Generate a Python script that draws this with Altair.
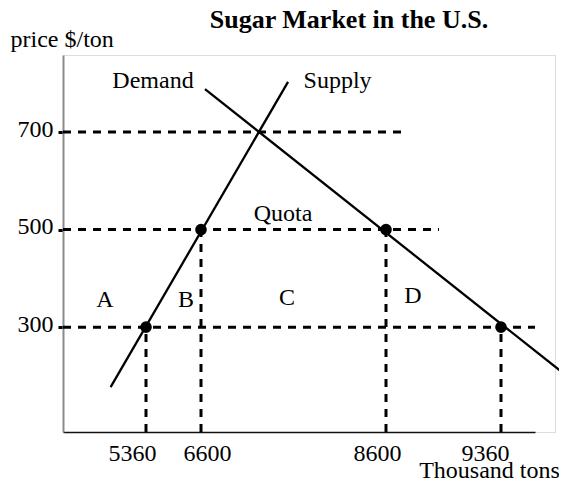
import altair as alt
import pandas as pd

FONT = "Liberation Serif"

# ---- data (quantity in thousand tons, price in $/ton) ----
quantity_ticks = [5360, 6600, 8600, 9360]
price_ticks = [300, 500, 700]

point_q = [5360, 6600, 8600, 9360]
point_p = [300, 500, 500, 300]

supply_q = [4780, 7541]
supply_p = [177, 803]
demand_q = [6643, 9980]
demand_p = [788, 206]

hline_p = [700, 500, 300]
hline_q_end = [8726, 8950, 9700]
vline_q = [5360, 6600, 8600, 9360]
vline_p_top = [300, 500, 500, 300]

label_text = ["Demand", "Supply", "Quota", "A", "B", "C", "D"]
label_q = [5518, 8076, 7486, 4688, 6262, 7530, 8778]
label_p = [790, 790, 517, 341, 341, 345, 349]

Q_MIN, Q_MAX = 4000, 9700
P_MIN, P_MAX = 85, 858

# ---- tables ----
dash_df = pd.DataFrame(
    [{"q": Q_MIN, "q2": e, "p": p, "p2": p} for p, e in zip(hline_p, hline_q_end)]
    + [{"q": q, "q2": q, "p": P_MIN, "p2": t} for q, t in zip(vline_q, vline_p_top)]
)
curve_df = pd.DataFrame([
    {"q": supply_q[0], "q2": supply_q[1], "p": supply_p[0], "p2": supply_p[1]},
    {"q": demand_q[0], "q2": demand_q[1], "p": demand_p[0], "p2": demand_p[1]},
])
pts_df = pd.DataFrame({"q": point_q, "p": point_p})
lab_df = pd.DataFrame({"q": label_q, "p": label_p, "t": label_text})

xscale = alt.Scale(domain=[Q_MIN, 5360, 6600, 8600, 9360, Q_MAX],
                   range=[0, 83, 138, 323, 438, 472], zero=False, nice=False)
yscale = alt.Scale(domain=[P_MIN, P_MAX], zero=False, nice=False)

x_label_offset = {
    "condition": [
        {"test": "datum.value == 5360", "value": -14},
        {"test": "datum.value == 6600", "value": 6},
        {"test": "datum.value == 8600", "value": -9},
        {"test": "datum.value == 9360", "value": -16},
    ],
    "value": 0,
}

xaxis = alt.Axis(values=quantity_ticks, format="d", grid=False, ticks=False, tickSize=0,
                 labelFont=FONT, labelFontSize=24, labelColor="black", labelPadding=9,
                 labelOffset=x_label_offset, labelFlush=False, labelOverlap=False,
                 domainColor="#111111", domainWidth=1.5,
                 title="Thousand tons", titleFont=FONT, titleFontSize=24,
                 titleFontWeight="normal", titleColor="black",
                 titleX=426, titleY=45, titleAlign="center", titleBaseline="alphabetic")
yaxis = alt.Axis(values=price_ticks, format="d", grid=False,
                 tickColor="black", tickWidth=3, tickSize=5,
                 labelFont=FONT, labelFontSize=24, labelColor="black", labelPadding=5,
                 labelOffset=-3,
                 domainColor="#8a8a8a", domainWidth=2,
                 title="price $/ton", titleFont=FONT, titleFontSize=24,
                 titleFontWeight="normal", titleColor="black", titleAngle=0,
                 titleX=-53, titleY=-9, titleAlign="left", titleBaseline="alphabetic")

X = alt.X("q:Q", scale=xscale, axis=xaxis)
Y = alt.Y("p:Q", scale=yscale, axis=yaxis)

dashes = alt.Chart(dash_df).mark_rule(color="black", strokeWidth=3, strokeDash=[8, 7]).encode(
    x=X, x2="q2", y=Y, y2="p2")
curves = alt.Chart(curve_df).mark_rule(color="black", strokeWidth=2.3).encode(
    x=X, x2="q2", y=Y, y2="p2")
points = alt.Chart(pts_df).mark_circle(color="black", size=135, opacity=1).encode(x=X, y=Y)
texts = alt.Chart(lab_df).mark_text(font=FONT, fontSize=24, color="black",
                                    align="center", baseline="alphabetic").encode(
    x=X, y=Y, text="t:N")

chart = alt.layer(dashes, curves, points, texts).properties(
    width=492, height=377,
    title=alt.TitleParams("Sugar Market in the U.S.", font=FONT, fontSize=26,
                          fontWeight="bold", color="black", anchor="middle",
                          dx=40, dy=27, baseline="alphabetic", offset=0),
    autosize="none",
    padding={"left": 55, "top": 47, "right": 4, "bottom": 47},
).configure_view(stroke=None).configure(background="white")

chart.save("out.html", embed_options={"renderer": "svg", "actions": False})
